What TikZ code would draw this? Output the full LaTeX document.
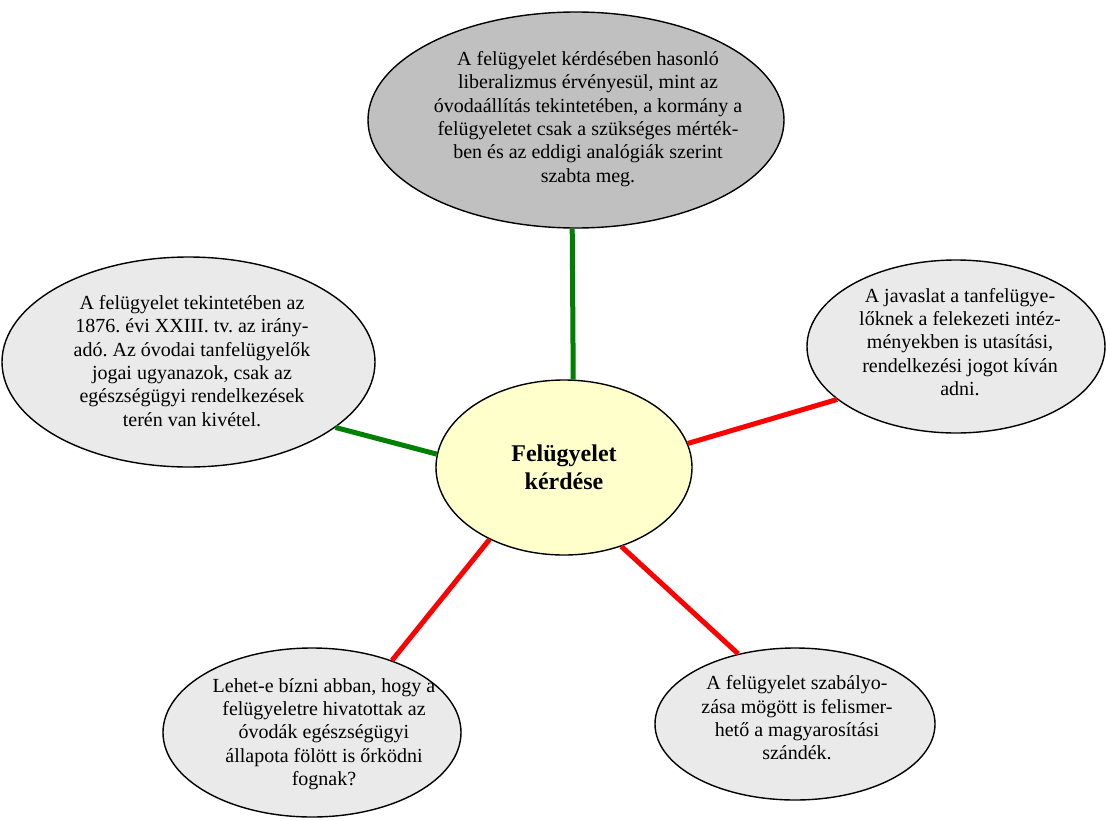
\documentclass[tikz,border=0pt]{standalone}
\usepackage{fontspec}
\setmainfont{Liberation Serif}
\usetikzlibrary{shapes.geometric}
\frenchspacing
\definecolor{topgray}{HTML}{C0C0C0}
\definecolor{lightgray}{HTML}{EAEAEA}
\definecolor{paleyellow}{HTML}{FFFFCC}
\definecolor{linkgreen}{HTML}{008000}
\definecolor{linkred}{HTML}{FF0000}
\tikzset{
  bubble/.style={ellipse, draw=black, line width=1.4pt, inner sep=0pt},
  bubbletext/.style={align=center, inner sep=0pt,
    font=\fontsize{20}{23.3}\selectfont},
  greenlink/.style={draw=linkgreen, line width=5pt},
  redlink/.style={draw=linkred, line width=5pt}
}
\begin{document}
\begin{tikzpicture}[x=1pt, y=-1pt]
\useasboundingbox (0,0) rectangle (1106,820);

% central topic
\node[bubble, fill=paleyellow, minimum width=256pt, minimum height=175pt,
      align=center, font=\bfseries\fontsize{24}{28}\selectfont]
  (c) at (564,467.5) {Felügyelet\\kérdése};

% surrounding bubbles
\node[bubble, fill=topgray, minimum width=416pt, minimum height=216pt] (top) at (576,120) {};
\node[bubbletext] (topT) at (588,119) {A felügyelet kérdésében hasonló\\
liberalizmus érvényesül, mint az\\
óvodaállítás tekintetében, a kormány a\\
felügyeletet csak a szükséges mérték-\\
ben és az eddigi analógiák szerint\\
szabta meg.};

\node[bubble, fill=lightgray, minimum width=373pt, minimum height=210pt] (left) at (188.5,362) {};
\node[bubbletext] (leftT) at (192,361) {A felügyelet tekintetében az\\
1876. évi XXIII. tv. az irány-\\
adó. Az óvodai tanfelügyelők\\
jogai ugyanazok, csak az\\
egészségügyi rendelkezések\\
terén van kivétel.};

\node[bubble, fill=lightgray, minimum width=298pt, minimum height=173pt] (right) at (956,346.5) {};
\node[bubbletext] (rightT) at (960,342) {A javaslat a tanfelügye-\\
lőknek a felekezeti intéz-\\
ményekben is utasítási,\\
rendelkezési jogot kíván\\
adni.};

\node[bubble, fill=lightgray, minimum width=298pt, minimum height=169pt] (bl) at (312,732.5) {};
\node[bubbletext] (blT) at (324,734) {Lehet-e bízni abban, hogy a\\
felügyeletre hivatottak az\\
óvodák egészségügyi\\
állapota fölött is őrködni\\
fognak?};

\node[bubble, fill=lightgray, minimum width=280pt, minimum height=152pt] (br) at (795,724) {};
\node[bubbletext] (brT) at (797,718) {A felügyelet szabályo-\\
zása mögött is felismer-\\
hető a magyarosítási\\
szándék.};

% connectors
\draw[greenlink] (top.-92.1) -- (c.84.9);
\draw[greenlink] (left.-24.2) -- (c.174.4);
\draw[redlink] (c.11.6) -- (right.204);
\draw[redlink] (c.224.4) -- (bl.42.4);
\draw[redlink] (c.-54.8) -- (br.129.2);
\end{tikzpicture}
\end{document}
